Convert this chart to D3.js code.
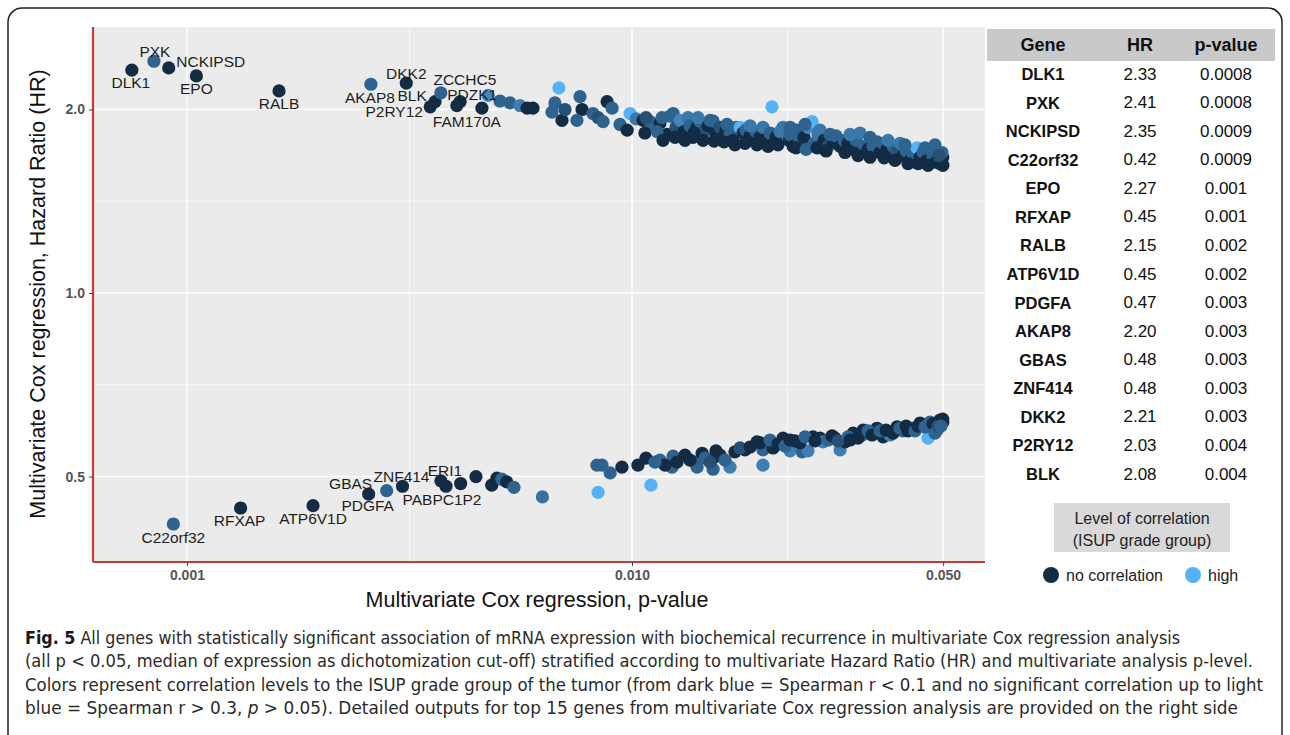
<!DOCTYPE html>
<html><head><meta charset="utf-8">
<script src="https://cdn.jsdelivr.net/npm/d3@7"></script>
<style>
html,body{margin:0;padding:0;background:#fff;}
svg{display:block;font-family:"Liberation Sans",Arial,sans-serif;}
</style></head>
<body><svg id="chart" width="1290" height="735"></svg>
<script>
// ---------------- DATA ----------------
const labeledGenes = ["DLK1","PXK","NCKIPSD","EPO","RALB","AKAP8","DKK2","BLK","P2RY12","ZCCHC5","PDZK1","FAM170A",
                      "C22orf32","RFXAP","ATP6V1D","GBAS","PDGFA","ZNF414","ERI1","PABPC1P2"];
const labeledP    = [0.000752,0.000843,0.00091,0.00105,0.00161,0.00259,0.00311,0.00361,0.00352,0.00372,0.00475,0.00404,
                     0.000932,0.00132,0.00192,0.00256,0.00281,0.00305,0.00372,0.00382];
const labeledHR   = [2.32,2.40,2.34,2.27,2.145,2.20,2.21,2.06,2.02,2.13,2.11,2.03,
                     0.418,0.444,0.448,0.468,0.474,0.482,0.492,0.482];
const labeledCorr = [0,0.45,0,0,0,0.45,0,0,0,0.45,0.7,0,
                     0.45,0,0,0,0.45,0,0,0];

// unlabeled genes: [p-value, HR, correlation level 0..1]
const upperBand = [
 [0.00460,2.01,0],[0.00505,2.065,0.45],[0.00532,2.05,0.45],[0.00560,2.03,0.65],[0.00581,2.01,0],[0.00599,2.01,0],
 [0.00685,2.17,1],[0.00671,2.05,0.45],[0.00661,1.98,0.45],[0.00696,1.92,0],[0.00707,2.00,0.3],[0.00764,2.10,0.45],
 [0.00772,2.00,0],[0.00752,1.92,0.45],[0.00817,1.97,0.45],[0.00839,1.94,0.3],[0.00879,2.06,0],[0.00902,2.01,0.45],
 [0.00861,1.91,0.45],[0.00940,1.89,0.45],[0.00975,1.85,0],[0.00990,1.97,1],[0.01021,1.93,0.6],[0.01059,1.92,0],
 [0.01098,1.91,0.45],[0.01115,1.89,0.45],[0.01156,1.90,0],[0.01199,1.82,0],[0.01217,1.95,0.45],[0.01237,1.97,0.45],
 [0.01256,1.87,0.3],[0.01282,1.92,0.7],[0.01309,1.84,0],[0.01336,1.94,0.6],[0.01350,1.88,0.45],[0.01371,1.80,0],
 [0.01400,1.87,0],[0.01422,1.91,0.45],[0.01452,1.84,0.3],[0.01482,1.88,0],[0.01497,1.92,0.45],[0.01521,1.915,0.45],
 [0.01544,1.82,0],[0.01577,1.87,0.3],[0.01602,1.80,0],[0.01627,1.85,0],[0.01660,1.82,0.45],[0.01686,1.78,0],
 [0.01713,1.87,0.45],[0.01749,1.87,1],[0.01776,1.83,0],[0.01803,1.85,0.45],[0.01842,1.81,0],[0.01871,1.82,0],
 [0.01899,1.84,0.45],[0.01939,1.80,0],[0.01969,1.87,0.6],[0.02010,1.78,0],[0.02042,1.83,0.45],[0.02063,2.02,1],
 [0.02106,1.80,0],[0.02151,1.84,0.6],[0.02184,1.87,0.6],[0.02253,1.78,0],[0.02265,1.82,0.45],[0.02301,1.74,0],
 [0.02348,1.85,0.45],[0.02385,1.78,0.45],[0.02435,1.80,0],[0.02486,1.87,0.7],[0.02538,1.91,1],[0.02565,1.76,0.45],
 [0.02618,1.82,0.6],[0.02645,1.85,0.6],[0.02701,1.78,0],[0.02757,1.74,0.3],[0.02830,1.77,0],[0.02873,1.81,0.45],
 [0.02934,1.74,0],[0.02996,1.78,0.45],[0.03058,1.76,0],[0.03139,1.72,0],[0.03187,1.78,0.45],[0.03254,1.83,0.6],
 [0.03323,1.74,0.45],[0.03391,1.72,0],[0.03480,1.74,0.45],[0.03552,1.77,0.45],[0.03608,1.70,0],[0.03665,1.76,0.45],
 [0.03741,1.72,0],[0.03800,1.68,0],[0.03860,1.74,0.45],[0.03939,1.70,0.3],[0.04001,1.76,0.6],[0.04064,1.68,0],
 [0.04127,1.71,0.45],[0.04214,1.65,0],[0.04280,1.69,0.45],[0.04369,1.73,1],[0.04438,1.67,0],[0.04508,1.70,0.45],
 [0.04601,1.65,0],[0.04673,1.72,0.45],[0.04746,1.67,0.45],[0.04819,1.64,0],[0.04921,1.63,0],[0.04990,1.67,0],
 [0.04995,1.62,0],[0.04970,1.70,0.45],[0.01069,1.83,0],[0.01138,1.84,0.45],[0.01174,1.78,0],[0.01249,1.80,0],
 [0.01315,1.78,0],[0.01378,1.83,0],[0.01444,1.78,0],[0.01529,1.775,0],[0.01610,1.77,0],[0.01703,1.75,0],
 [0.01794,1.76,0],[0.01909,1.75,0],[0.02021,1.74,0],[0.02128,1.75,0],[0.02336,1.73,0],[0.02461,1.72,0.45],
 [0.02604,1.73,0],[0.02729,1.71,0],[0.03010,1.70,0],[0.03220,1.68,0],[0.03426,1.67,0],[0.03684,1.666,0],
 [0.03899,1.65,0],[0.04170,1.63,0],[0.04392,1.63,0],[0.04624,1.62,0],[0.01075,1.94,0.3],[0.01168,1.94,0.45],
 [0.01407,1.94,0.6],[0.01635,1.89,0.45],[0.01842,1.88,0.6],[0.02265,1.87,0.45],[0.02447,1.89,0.45],[0.02786,1.82,0.45],
 [0.03090,1.82,0.6],[0.03426,1.80,0.45],[0.03760,1.78,0.6],[0.04105,1.75,0.45],[0.04553,1.73,0.45],[0.04794,1.75,0.45],
 [0.04895,1.68,0.3],[0.00411,2.06,0]
];
const lowerBand = [
 [0.00412,0.487,0],[0.00446,0.500,0],[0.00484,0.484,0],[0.00497,0.497,0],[0.00510,0.495,0.45],[0.00523,0.490,0],
 [0.00543,0.480,0.45],[0.00629,0.463,0.55],
 [0.00834,0.522,0.45],[0.00856,0.522,0.45],[0.00893,0.507,0.45],[0.00949,0.518,0],[0.00839,0.471,1],[0.01031,0.522,0],
 [0.01075,0.536,0],[0.01103,0.484,1],[0.01237,0.540,0.45],[0.01230,0.518,0.45],[0.01315,0.542,0],[0.01262,0.528,0],
 [0.01385,0.528,0.45],[0.01400,0.518,0.45],[0.01437,0.546,0],[0.01521,0.536,0],[0.01544,0.551,0],[0.01521,0.514,0.45],
 [0.01660,0.518,0.65],[0.01794,0.553,0],[0.01969,0.522,0.65],[0.01909,0.570,0],[0.02010,0.563,0.45],[0.01969,0.553,0.45],
 [0.02074,0.557,0],[0.02184,0.578,0],[0.02265,0.551,0.65],[0.02410,0.549,0.45],[0.02323,0.572,0],[0.02486,0.551,0.65],
 [0.02551,0.581,0],[0.02645,0.578,0],[0.02687,0.570,0.65],[0.02859,0.578,0],[0.02934,0.553,0.65],[0.03010,0.570,0],
 [0.03139,0.589,0],[0.03288,0.585,0.45],[0.03306,0.596,0],[0.03552,0.600,0],[0.03665,0.581,0],[0.03800,0.585,0.65],
 [0.03939,0.603,0],[0.04064,0.594,0.45],[0.04258,0.600,0.45],[0.04438,0.612,0],[0.04624,0.578,1],[0.04673,0.614,0.45],
 [0.04845,0.596,0.45],[0.04921,0.619,0],[0.04990,0.614,0],
 [0.01350,0.532,0],[0.01459,0.536,0.45],[0.01577,0.542,0],[0.01618,0.532,0.45],[0.01703,0.549,0],[0.01749,0.557,0.3],
 [0.01842,0.559,0],[0.01939,0.568,0],[0.02042,0.574,0.45],[0.02128,0.565,0],[0.02206,0.561,0.45],[0.02265,0.574,0],
 [0.02385,0.568,0],[0.02447,0.581,0.45],[0.02577,0.572,0],[0.02757,0.574,0.45],[0.02815,0.583,0],[0.02904,0.572,0.3],
 [0.03058,0.581,0.45],[0.03090,0.574,0],[0.03220,0.578,0],[0.03391,0.594,0.45],[0.03462,0.585,0],[0.03608,0.594,0.45],
 [0.03723,0.596,0],[0.03860,0.589,0],[0.04001,0.600,0.45],[0.04127,0.605,0],[0.04170,0.594,0],[0.04323,0.594,0.45],
 [0.04392,0.605,0],[0.04553,0.603,0.45],[0.04746,0.610,0],[0.04794,0.589,0.45],[0.04870,0.605,0.3],[0.04990,0.621,0],
 [0.04945,0.605,0.45],[0.01156,0.532,0.45],[0.01186,0.522,0],[0.01126,0.528,0.45],[0.01497,0.528,0.3]
];

const xTickValues = [0.001, 0.010, 0.050];
const xTickLabels = ["0.001", "0.010", "0.050"];
const yTickValues = [0.5, 1.0, 2.0];
const yTickLabels = ["0.5", "1.0", "2.0"];
const xMinorValues = [0.003162, 0.02236];
const yMinorValues = [0.7071, 1.4142];

const tableHeader = ["Gene", "HR", "p-value"];
const tableGenes = ["DLK1","PXK","NCKIPSD","C22orf32","EPO","RFXAP","RALB","ATP6V1D","PDGFA","AKAP8","GBAS","ZNF414","DKK2","P2RY12","BLK"];
const tableHR    = ["2.33","2.41","2.35","0.42","2.27","0.45","2.15","0.45","0.47","2.20","0.48","0.48","2.21","2.03","2.08"];
const tablePval  = ["0.0008","0.0008","0.0009","0.0009","0.001","0.001","0.002","0.002","0.003","0.003","0.003","0.003","0.003","0.004","0.004"];

const legendTitle = ["Level of correlation", "(ISUP grade group)"];
const legendLabels = ["no correlation", "high"];
const legendLevels = [0, 1];

const xTitle = "Multivariate Cox regression, p-value";
const yTitle = "Multivariate Cox regression, Hazard Ratio (HR)";

// ---------------- DRAW ----------------
const svg = d3.select("#chart");
const P = {left: 93, right: 985, top: 27, bottom: 562};

const x = d3.scaleLog().domain([0.000615, 0.0621]).range([P.left, P.right]);
const y = d3.scaleLog().domain([0.3621, 2.731]).range([P.bottom, P.top]);
const color = d3.scaleLinear().domain([0, 1]).range(["#132B43", "#56B1F7"]).interpolate(d3.interpolateLab);

// outer frame
svg.append("rect").attr("x", 8).attr("y", 8).attr("width", 1274).attr("height", 800)
  .attr("rx", 14).attr("fill", "#fff").attr("stroke", "#222").attr("stroke-width", 1.5);

// panel
svg.append("rect").attr("x", P.left).attr("y", P.top).attr("width", P.right - P.left).attr("height", P.bottom - P.top)
  .attr("fill", "#ebebeb");

const grid = svg.append("g");
grid.selectAll(".xmin").data(xMinorValues).join("line")
  .attr("x1", d => x(d)).attr("x2", d => x(d)).attr("y1", P.top).attr("y2", P.bottom)
  .attr("stroke", "#fff").attr("stroke-width", 0.7);
grid.selectAll(".ymin").data(yMinorValues).join("line")
  .attr("y1", d => y(d)).attr("y2", d => y(d)).attr("x1", P.left).attr("x2", P.right)
  .attr("stroke", "#fff").attr("stroke-width", 0.7);
grid.selectAll(".xmaj").data(xTickValues).join("line")
  .attr("x1", d => x(d)).attr("x2", d => x(d)).attr("y1", P.top).attr("y2", P.bottom)
  .attr("stroke", "#fff").attr("stroke-width", 1.4);
grid.selectAll(".ymaj").data(yTickValues).join("line")
  .attr("y1", d => y(d)).attr("y2", d => y(d)).attr("x1", P.left).attr("x2", P.right)
  .attr("stroke", "#fff").attr("stroke-width", 1.4);

// points
const allPts = upperBand.concat(lowerBand);
const labeled = labeledGenes.map((g, i) => ({name: g, p: labeledP[i], hr: labeledHR[i], c: labeledCorr[i]}));
svg.append("g").selectAll("circle").data(allPts).join("circle")
  .attr("cx", d => x(d[0])).attr("cy", d => y(d[1])).attr("r", 6.6)
  .attr("fill", d => color(d[2]));
svg.append("g").selectAll("circle").data(labeled).join("circle")
  .attr("cx", d => x(d.p)).attr("cy", d => y(d.hr)).attr("r", 6.6)
  .attr("fill", d => color(d.c));

// labels (repelled offsets)
const nudge = {
  DLK1:[-1,12], PXK:[1,-10], NCKIPSD:[42,-6], EPO:[0,13], RALB:[0,13], AKAP8:[-1,13], DKK2:[0,-10],
  BLK:[-23,-6], P2RY12:[-36,5], ZCCHC5:[24,-13], PDZK1:[-16,-1], FAM170A:[10,16],
  C22orf32:[0,14], RFXAP:[-1,12], ATP6V1D:[0,13], GBAS:[-18,-11], PDGFA:[-19,15], ZNF414:[-1,-10],
  ERI1:[4,-10], PABPC1P2:[-4,13]
};
svg.append("g").selectAll("text").data(labeled).join("text")
  .attr("x", d => x(d.p) + nudge[d.name][0]).attr("y", d => y(d.hr) + nudge[d.name][1])
  .attr("text-anchor", "middle").attr("dominant-baseline", "central")
  .attr("font-size", 15.5).attr("fill", "#1e1e1e").text(d => d.name);

// axes
const xAxis = svg.append("g").attr("transform", `translate(0,${P.bottom})`)
  .call(d3.axisBottom(x).tickValues(xTickValues).tickFormat((d, i) => xTickLabels[i]).tickSize(4).tickPadding(4));
const yAxis = svg.append("g").attr("transform", `translate(${P.left},0)`)
  .call(d3.axisLeft(y).tickValues(yTickValues).tickFormat((d, i) => yTickLabels[i]).tickSize(4).tickPadding(4));
[xAxis, yAxis].forEach(a => {
  a.select(".domain").attr("stroke", "#c23b35").attr("stroke-width", 2.2);
  a.selectAll(".tick line").attr("stroke", "#444").attr("stroke-width", 1);
  a.selectAll(".tick text").attr("fill", "#555").attr("font-size", 14).attr("font-weight", "bold")
    .attr("font-family", "Liberation Sans, Arial, sans-serif");
});
xAxis.select(".domain").attr("d", `M${P.left},0H${P.right}`);
yAxis.select(".domain").attr("d", `M0,${P.top}V${P.bottom}`);

// titles
svg.append("text").attr("x", 537).attr("y", 600).attr("text-anchor", "middle").attr("dominant-baseline", "central")
  .attr("font-size", 21.5).attr("fill", "#111").text(xTitle);
svg.append("text").attr("transform", "translate(38,294) rotate(-90)").attr("text-anchor", "middle")
  .attr("dominant-baseline", "central").attr("font-size", 21.5).attr("fill", "#111").text(yTitle);

// table
const colX = [1043, 1140, 1226];
svg.append("rect").attr("x", 987).attr("y", 29).attr("width", 288).attr("height", 32).attr("fill", "#c9c9c9");
svg.append("g").selectAll("text").data(tableHeader).join("text")
  .attr("x", (d, i) => colX[i]).attr("y", 45).attr("text-anchor", "middle").attr("dominant-baseline", "central")
  .attr("font-size", 18).attr("font-weight", "bold").attr("fill", "#111").text(d => d);
const rowY = d3.scaleLinear().domain([0, tableGenes.length - 1]).range([74, 474]);
const rows = svg.append("g").selectAll("g").data(tableGenes).join("g")
  .attr("transform", (d, i) => `translate(0,${rowY(i)})`);
rows.append("text").attr("x", colX[0]).attr("text-anchor", "middle").attr("dominant-baseline", "central")
  .attr("font-size", 16.5).attr("font-weight", "bold").attr("fill", "#111").text(d => d);
rows.append("text").attr("x", colX[1]).attr("text-anchor", "middle").attr("dominant-baseline", "central")
  .attr("font-size", 17).attr("fill", "#111").text((d, i) => tableHR[i]);
rows.append("text").attr("x", colX[2]).attr("text-anchor", "middle").attr("dominant-baseline", "central")
  .attr("font-size", 17).attr("fill", "#111").text((d, i) => tablePval[i]);

// legend
svg.append("rect").attr("x", 1054).attr("y", 503).attr("width", 176).attr("height", 49).attr("fill", "#d9d9d9");
svg.append("g").selectAll("text").data(legendTitle).join("text")
  .attr("x", 1142).attr("y", (d, i) => 518 + i * 22).attr("text-anchor", "middle").attr("dominant-baseline", "central")
  .attr("font-size", 16).attr("fill", "#222").text(d => d);
const legX = [1051, 1193];
const leg = svg.append("g").selectAll("g").data(legendLabels).join("g")
  .attr("transform", (d, i) => `translate(${legX[i]},575)`);
leg.append("circle").attr("r", 8).attr("fill", (d, i) => color(legendLevels[i]));
leg.append("text").attr("x", 15).attr("dominant-baseline", "central").attr("font-size", 16).attr("fill", "#222").text(d => d);

// caption
const cap = svg.append("g").attr("font-family", "'Liberation Sans Narrow','DejaVu Sans Condensed','Arial Narrow',sans-serif")
  .attr("font-size", 18).attr("fill", "#2a2a2a");
const capLines = [
  {y: 644, len: 1155, parts: [["Fig. 5", "bold"], [" All genes with statistically significant association of mRNA expression with biochemical recurrence in multivariate Cox regression analysis", ""]]},
  {y: 667, len: 1228, parts: [["(all p < 0.05, median of expression as dichotomization cut-off) stratified according to multivariate Hazard Ratio (HR) and multivariate analysis p-level.", ""]]},
  {y: 691, len: 1238, parts: [["Colors represent correlation levels to the ISUP grade group of the tumor (from dark blue = Spearman r < 0.1 and no significant correlation up to light", ""]]},
  {y: 714, len: 1213, parts: [["blue = Spearman r > 0.3, ", ""], ["p", "italic"], [" > 0.05). Detailed outputs for top 15 genes from multivariate Cox regression analysis are provided on the right side", ""]]}
];
capLines.forEach(l => {
  const t = cap.append("text").attr("x", 25).attr("y", l.y).attr("textLength", l.len).attr("lengthAdjust", "spacingAndGlyphs");
  l.parts.forEach(p => {
    const s = t.append("tspan").text(p[0]);
    if (p[1] === "bold") s.attr("font-weight", "bold").attr("fill", "#1a1a1a");
    if (p[1] === "italic") s.attr("font-style", "italic");
  });
});
</script></body></html>
